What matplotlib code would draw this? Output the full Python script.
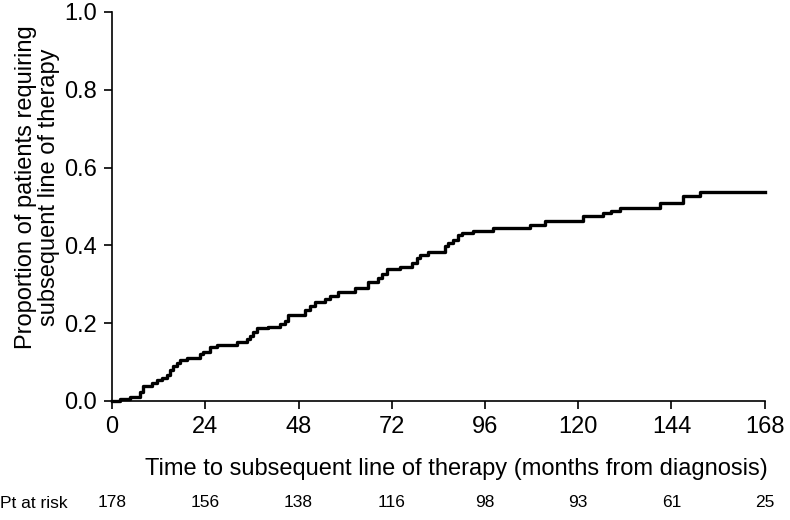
import numpy as np
import matplotlib
matplotlib.use('Agg')
import matplotlib.pyplot as plt

plt.rcParams['font.family'] = ['Liberation Sans', 'DejaVu Sans']

# step curve (months, cumulative proportion)
months = [0, 2.0, 4.6, 7.2, 8.0, 10.2, 11.5, 12.8, 14.1, 14.9, 15.8, 16.6, 17.5, 19.2,
          22.6, 23.5, 25.2, 26.9, 32.1, 34.7, 35.5, 36.3, 37.2, 40.2, 43.2, 44.5,
          45.4, 49.6, 50.9, 52.2, 54.8, 56.1, 58.2, 62.5, 65.9, 68.5, 69.4, 70.7,
          74.1, 77.1, 78.4, 79.2, 81.4, 85.7, 86.5, 87.8, 89.1, 90.0, 93.0, 98.1,
          107.5, 111.4, 121.2, 126.4, 128.5, 130.7, 141.0, 147.0, 151.3, 168]
proportion = [0.0, 0.004, 0.010, 0.024, 0.039, 0.047, 0.054, 0.058, 0.067, 0.080, 0.090,
              0.098, 0.105, 0.111, 0.120, 0.127, 0.138, 0.144, 0.152, 0.158, 0.167,
              0.178, 0.187, 0.191, 0.198, 0.205, 0.221, 0.234, 0.244, 0.255, 0.261,
              0.270, 0.281, 0.290, 0.307, 0.316, 0.327, 0.338, 0.345, 0.355, 0.368,
              0.374, 0.383, 0.399, 0.407, 0.414, 0.427, 0.433, 0.438, 0.444, 0.452,
              0.463, 0.475, 0.482, 0.489, 0.495, 0.510, 0.527, 0.537, 0.537]

xticks = [0, 24, 48, 72, 96, 120, 144, 168]
at_risk = [178, 156, 138, 116, 98, 93, 61, 25]

fig = plt.figure(figsize=(7.9, 5.2), dpi=100)
ax = fig.add_axes([0.1418, 0.229, 0.8262, 0.748])

ax.step(months, proportion, where='post', color='black', lw=2.4, clip_on=False)

ax.set_xlim(0, 168)
ax.set_ylim(0, 1.0)
ax.set_xticks(xticks)
ax.set_yticks(np.arange(0, 1.01, 0.2))
ax.set_yticklabels(['%.1f' % v for v in np.arange(0, 1.01, 0.2)])
ax.tick_params(direction='out', length=6, width=1.2, labelsize=17, pad=5)
for s in ['top', 'right']:
    ax.spines[s].set_visible(False)
for s in ['left', 'bottom']:
    ax.spines[s].set_linewidth(1.2)

ax.set_xlabel('Time to subsequent line of therapy (months from diagnosis)', fontsize=17)
ax.xaxis.set_label_coords(0.527, -0.148)
ax.set_ylabel('Proportion of patients requiring\nsubsequent line of therapy', fontsize=17,
              linespacing=1.05)
ax.yaxis.set_label_coords(-0.08, 0.55)

# numbers at risk row
trans = ax.get_xaxis_transform()
for x, n in zip(xticks, at_risk):
    ax.text(x, -0.262, str(n), transform=trans, ha='center', va='center', fontsize=12.5)
fig.text(0.0, 1 - 503 / 520, 'Pt at risk', ha='left', va='center', fontsize=12.5)

fig.savefig('out.png', dpi=100)
plt.close()
